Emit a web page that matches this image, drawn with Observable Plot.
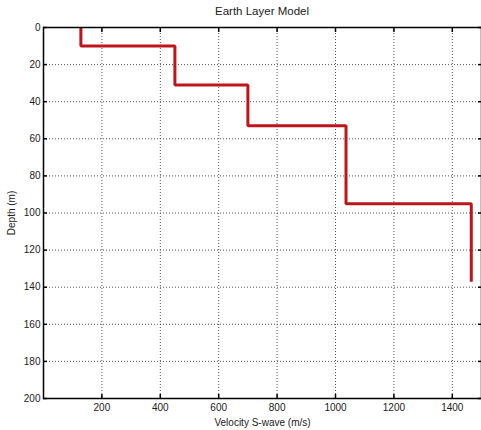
<!DOCTYPE html>
<html>
<head>
<meta charset="utf-8">
<script src="https://cdn.jsdelivr.net/npm/d3@7"></script>
<script src="https://cdn.jsdelivr.net/npm/@observablehq/plot@0.6"></script>
<style>
  body { margin: 0; background: #fff; font-family: "Liberation Sans", Arial, sans-serif; }
  #title { height: 20px; width: 481px; position: relative; }
  #title span { position: absolute; left: 262px; top: 5px; transform: translateX(-50%); font-size: 11.5px; color: #222; white-space: nowrap; }
</style>
</head>
<body>
<div id="title"><span>Earth Layer Model</span></div>
<div id="chart"></div>
<script>
const velocities = [128, 450, 700, 1036, 1465];
const layerTops = [0, 10, 31, 53, 95];
const layerBottoms = [10, 31, 53, 95, 137];
const xTicks = [200, 400, 600, 800, 1000, 1200, 1400];
const yTicks = [0, 20, 40, 60, 80, 100, 120, 140, 160, 180, 200];

const profile = [];
velocities.forEach((v, i) => {
  profile.push({v, d: layerTops[i]});
  profile.push({v, d: layerBottoms[i]});
});

const chart = Plot.plot({
  width: 481,
  height: 410,
  marginTop: 7,
  marginBottom: 32,
  marginLeft: 43,
  marginRight: 0,
  style: {fontFamily: '"Liberation Sans", Arial, sans-serif', fontSize: "10.5px", color: "#222", background: "#fff"},
  x: {domain: [0, 1500]},
  y: {domain: [0, 200], reverse: true},
  marks: [
    Plot.gridX(xTicks, {stroke: "#444", strokeOpacity: 0.9, strokeDasharray: "1,2"}),
    Plot.gridY(yTicks, {stroke: "#444", strokeOpacity: 0.9, strokeDasharray: "1,2"}),
    Plot.line(profile, {x: "v", y: "d", stroke: "#c0141c", strokeWidth: 3, strokeLinejoin: "miter", strokeLinecap: "butt"}),
    Plot.frame({stroke: "#000", strokeWidth: 1.5}),
    Plot.axisX(xTicks, {anchor: "bottom", tickSize: -4, tickPadding: 9, tickFormat: "d", fontSize: 10, label: "Velocity S-wave (m/s)", labelAnchor: "center", labelArrow: "none", labelOffset: 27, stroke: "#000", strokeWidth: 1.5}),
    Plot.axisX(xTicks, {anchor: "top", tickSize: -4, tickFormat: () => "", label: null, stroke: "#000", strokeWidth: 1.5}),
    Plot.axisY(yTicks, {anchor: "left", tickSize: -4, tickPadding: 7, tickFormat: "d", fontSize: 10, label: "Depth (m)", labelAnchor: "center", labelArrow: "none", labelOffset: 36, stroke: "#000", strokeWidth: 1.5}),
    Plot.axisY(yTicks, {anchor: "right", tickSize: -4, tickFormat: () => "", label: null, stroke: "#000", strokeWidth: 1.5})
  ]
});
document.getElementById("chart").appendChild(chart);
</script>
</body>
</html>
